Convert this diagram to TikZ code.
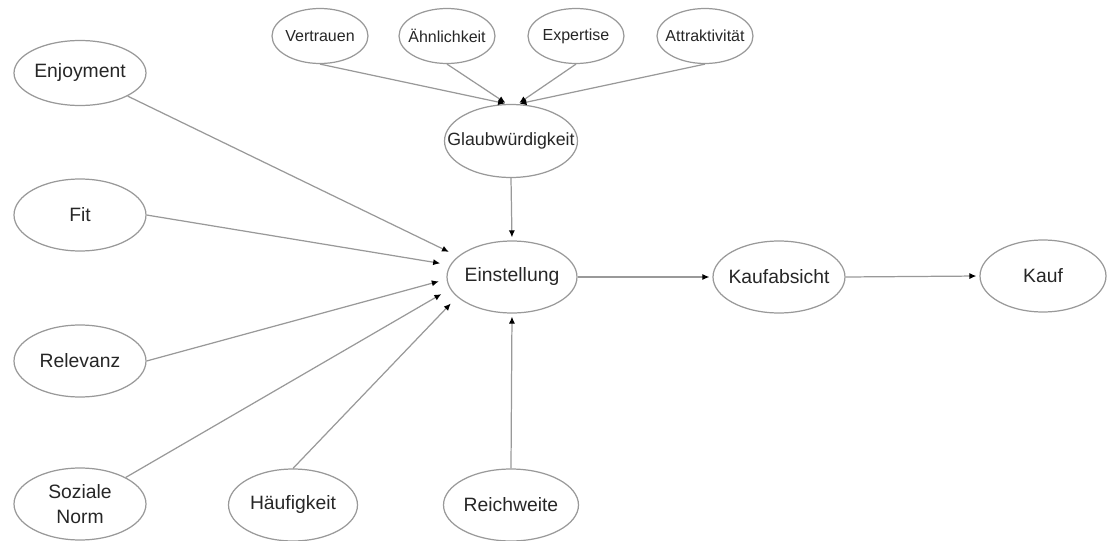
\documentclass[tikz,border=0pt]{standalone}
\usepackage{fontspec}
\setmainfont{Liberation Sans}
\usetikzlibrary{shapes.geometric,arrows.meta}
\begin{document}
\begin{tikzpicture}[x=0.02cm,y=-0.02cm,
	construct/.style={ellipse,draw=black!40,line width=0.7pt,text=black!85,minimum width=2.64cm,minimum height=1.44cm,inner xsep=-0.4cm,inner ysep=0pt,align=center,font=\fontsize{11}{14}\selectfont},
	facet/.style={construct,minimum width=1.92cm,minimum height=1.1cm,font=\fontsize{9.1}{11}\selectfont},
	link/.style={draw=black!40,line width=0.7pt,-{Latex[black,length=4pt,width=3.5pt]},shorten >=0.06cm}]
	\useasboundingbox(0,0) rectangle (1107,541);
	\node[facet](ver) at(320,36){Vertrauen};
	\node[facet](aeh) at(447,36){Ähnlichkeit};
	\node[facet](exp) at(576,36){Expertise};
	\node[facet](att) at(705,36){Attraktivität};
	\node[construct,minimum width=2.66cm,minimum height=1.46cm,font=\fontsize{10.1}{12}\selectfont](glau) at(511,141){Glaubwürdigkeit};
	\node[construct,minimum height=1.3cm](enj) at(80,73){Enjoyment};
	\node[construct](fit) at(80,215){Fit};
	\node[construct](rel) at(80,361){Relevanz};
	\node[construct](soz) at(80,504){Soziale\\Norm};
	\node[construct,minimum width=2.58cm](hae) at(293,505){Häufigkeit};
	\node[construct,minimum width=2.7cm](rei) at(511,505){Reichweite};
	\node[construct,minimum width=2.6cm](ein) at(512,277){Einstellung};
	\node[construct](kab) at(779,277){Kaufabsicht};
	\node[construct,minimum width=2.52cm](kauf) at(1043,276){Kauf};
	\draw[link,shorten >=0.04cm](ver.south)--(glau.96);
	\draw[link,shorten >=0.04cm](aeh.south)--(glau.96);
	\draw[link,shorten >=0.04cm](exp.south)--(glau.80);
	\draw[link,shorten >=0.04cm](att.south)--(glau.80);
	\draw[link](glau.south)--(ein.north);
	\draw[link,shorten >=0.2cm](enj)--(ein.159);
	\draw[link,shorten >=0.2cm](fit.east)--(ein.169);
	\draw[link,shorten >=0.16cm](rel.east)--(ein.182);
	\draw[link,shorten >=0.2cm](soz)--(ein.191);
	\draw[link,shorten >=0.18cm](hae.north)--(ein.200);
	\draw[link](rei.north)--(ein.south);
	\draw[link](ein.east)--(kab.west);
	\draw[link](kab.east)--(kauf.west);
\end{tikzpicture}
\end{document}
